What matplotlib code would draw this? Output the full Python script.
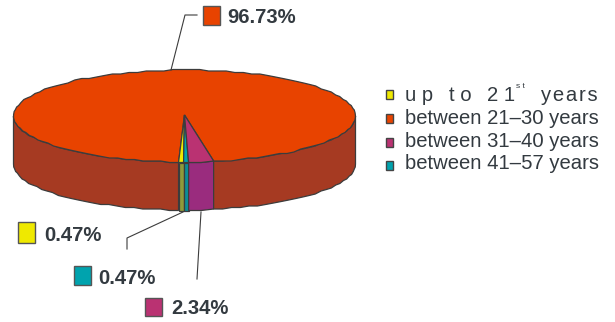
#!/usr/bin/env python3
import numpy as np
import matplotlib
matplotlib.use("Agg")
import matplotlib.pyplot as plt

plt.rcParams['font.family'] = ['Liberation Sans', 'DejaVu Sans']

# ---------------- DATA ----------------
slice_names = ["up to 21st years", "between 41-57 years", "between 31-40 years", "between 21-30 years"]
shares = [0.47, 0.47, 2.34, 96.73]
share_labels = ["0.47%", "0.47%", "2.34%", "96.73%"]
legend_labels = ["between 21–30 years", "between 31–40 years", "between 41–57 years"]

top_colors = ["#EFE900", "#00A3AE", "#BA3272", "#E84300"]
side_colors = ["#8F9A3A", "#0C8C96", "#9A2C7E", "#A63A22"]
line_col = "#3C3C3C"
text_col = "#333A40"

# ---------------- PIE GEOMETRY ----------------
cx, cy = 184.5, 116
rx, ry = 171, 46
depth = 48
start_deg = -2.0

fig = plt.figure(figsize=(6.15, 3.22), dpi=100)
ax = fig.add_axes([0, 0, 1, 1])
ax.set_xlim(0, 615)
ax.set_ylim(322, 0)
ax.axis("off")


def arc(a0, a1, step=3.0):
    # angle 0 is the front of the disc, going round to the right
    n = max(2, int(abs(a1 - a0) / step) + 1)
    t = np.radians(np.linspace(a0, a1, n))
    x = cx + rx * np.sin(t)
    y = cy + ry * np.cos(t)
    # the outline of the disc is stepped, not a clean curve
    return x, cy + np.round((y - cy) / 1.5) * 1.5


angles = start_deg + np.cumsum([0] + shares) / sum(shares) * 360

# side wall, only the front half shows
for i in range(len(shares)):
    a0, a1 = angles[i], angles[i + 1]
    if i == 3:
        # big slice wraps round: two visible pieces
        parts = [(a0, 90), (-90, start_deg)]
    else:
        parts = [(a0, a1)]
    for p0, p1 in parts:
        x, y = arc(p0, p1)
        ax.fill(np.r_[x, x[::-1]], np.r_[y, y[::-1] + depth],
                fc=side_colors[i], ec=line_col, lw=0.9, zorder=2)

# top faces
for i in range(len(shares)):
    x, y = arc(angles[i], angles[i + 1])
    ax.fill(np.r_[cx, x], np.r_[cy - 1, y], fc=top_colors[i],
            ec=line_col, lw=0.9, zorder=3 if i == 3 else 4)

# ---------------- LEADER LINES ----------------
ax.plot([171, 185, 197], [70, 15, 15], color=line_col, lw=0.8, zorder=5)
ax.plot([183, 127, 127], [212, 238, 249], color=line_col, lw=0.8, zorder=5)
ax.plot([201, 197], [212, 279], color=line_col, lw=0.8, zorder=5)

# ---------------- VALUE LABELS ----------------
boxes = [(18, 222, 17, 21, 44, 235),
         (74, 266, 17, 19, 98, 278),
         (145, 298, 17, 18, 171, 308),
         (203, 6, 17, 19, 227, 17)]
for i, (bx, by, bw, bh, tx, ty) in enumerate(boxes):
    ax.add_patch(plt.Rectangle((bx, by), bw, bh, fc=top_colors[i], ec="#555555", lw=1.0, zorder=5))
    ax.text(tx, ty, share_labels[i], fontsize=14.6, fontweight="bold", color=text_col,
            va="center", ha="left", zorder=6)

# ---------------- LEGEND ----------------
legend_swatch = [(90, top_colors[0]), (113.5, top_colors[3]), (138, top_colors[2]), (161, top_colors[1])]
for y, col in legend_swatch:
    ax.add_patch(plt.Rectangle((386, y), 7, 9, fc=col, ec="#444444", lw=1.0, zorder=5))

ax.text(405, 95, "u p", fontsize=14.6, color=text_col, va="center")
ax.text(449, 95, "t o", fontsize=14.6, color=text_col, va="center")
ax.text(487, 95, "2 1", fontsize=14.6, color=text_col, va="center")
ax.text(516, 86, "s t", fontsize=6, color=text_col, va="center")
ax.text(541, 95, "y\u200ae\u200aa\u200ar\u200as", fontsize=14.6, color=text_col, va="center")
for y, s in zip([118, 141, 163], legend_labels):
    ax.text(405, y, s, fontsize=14.6, color=text_col, va="center")

fig.savefig("out.png", dpi=100)
